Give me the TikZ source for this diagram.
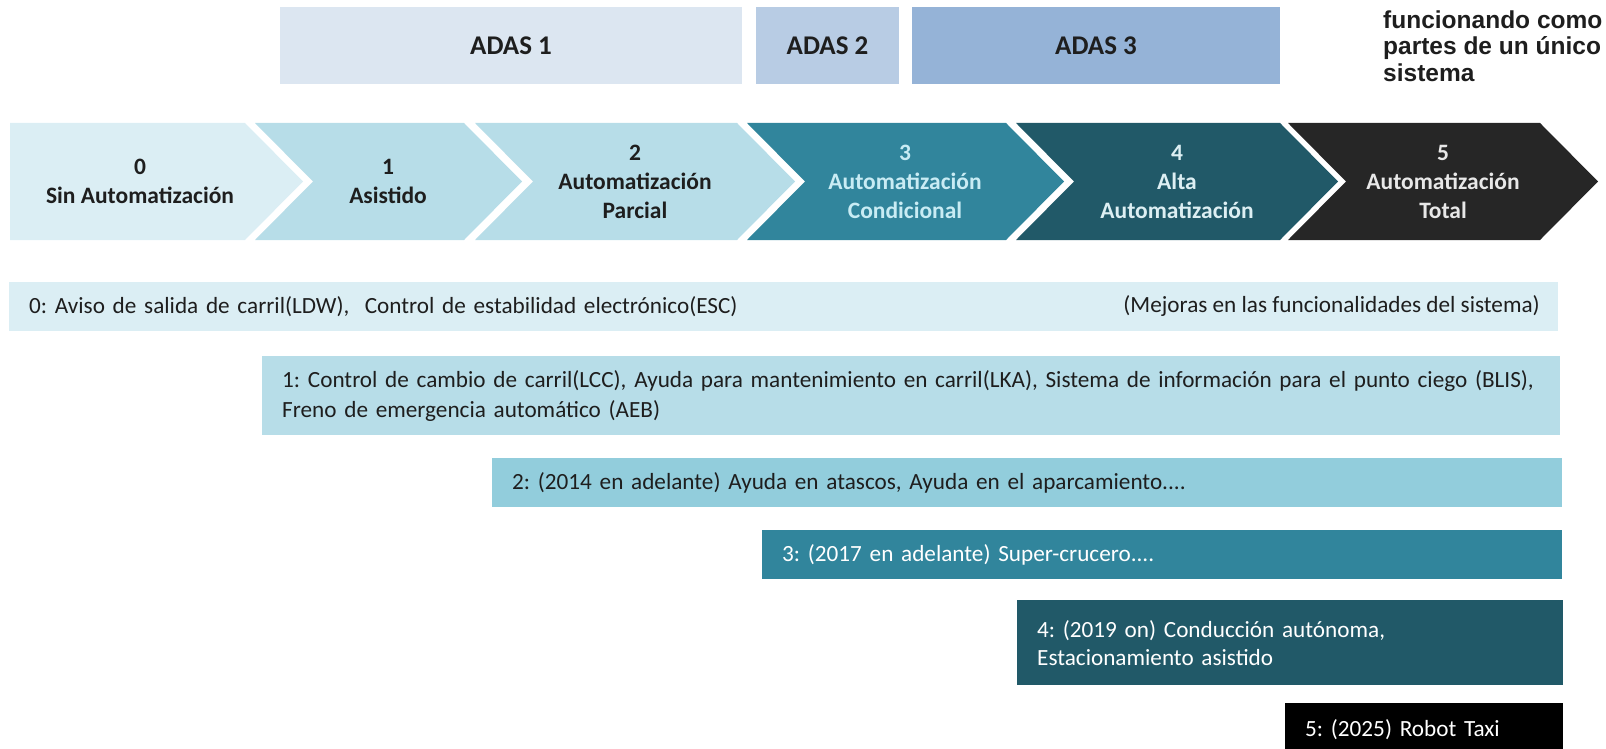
\documentclass[tikz,border=0pt]{standalone}
\usepackage{fontspec}
\setmainfont{Carlito}
\newfontfamily\arialfont{Liberation Sans}
\usepackage{tikz}
\usetikzlibrary{positioning}
\frenchspacing

\definecolor{adasA}{HTML}{DCE6F1}
\definecolor{adasB}{HTML}{B8CCE4}
\definecolor{adasC}{HTML}{95B3D7}
\definecolor{lvlA}{HTML}{DBEEF4}
\definecolor{lvlB}{HTML}{B7DDE8}
\definecolor{lvlC}{HTML}{92CDDC}
\definecolor{lvlD}{HTML}{31859C}
\definecolor{lvlE}{HTML}{215968}
\definecolor{lvlF}{HTML}{262626}
\definecolor{txtdark}{HTML}{1E1E1E}
\definecolor{txtcyan}{HTML}{C9ECF4}
\definecolor{txtpale}{HTML}{DDEFF3}
\definecolor{txtgrey}{HTML}{E8E8E8}

\newcommand{\adasfont}{\fontsize{27}{30}\selectfont\bfseries}
\newcommand{\stagefont}{\fontsize{23.5}{29}\selectfont\bfseries}
\newcommand{\lvlfont}{\fontsize{23.2}{30}\selectfont}

\begin{document}
\begin{tikzpicture}
[x=1pt,y=-1pt]
\tikzset{
	adasbox/.style = {rectangle, fill=#1, inner sep=0, font=\adasfont, text=txtdark},
	stagelabel/.style = {align=center, inner sep=0, font=\stagefont, text=#1},
	lvlbox/.style = {rectangle, fill=#1, anchor=north west, inner xsep=20pt, inner ysep=0, align=left, font=\lvlfont, text=txtdark},
	lvldark/.style = {lvlbox=#1, text=white}
}
\useasboundingbox (0,0) rectangle (1606,749);
\clip (0,0) rectangle (1606,749);

% ADAS groups
\node (adas1) [adasbox=adasA, minimum width=462pt, minimum height=77pt] at (511,45.5) {ADAS 1};
\node (adas2) [adasbox=adasB, minimum width=143pt, minimum height=77pt] at (827.5,45.5) {ADAS 2};
\node (adas3) [adasbox=adasC, minimum width=368pt, minimum height=77pt] at (1096,45.5) {ADAS 3};
\node (note) [anchor=north west, inner sep=0, align=left, font=\arialfont\fontsize{24.5}{26.5}\selectfont\bfseries, text=txtdark] at (1383,10.5) {funcionando como\\partes de un único\\sistema};

% levels
\fill [lvlA] (10,123) -- (245,123) -- (303,181.5) -- (245,240) -- (10,240) -- cycle;
\foreach \a/\b/\c in {255/464/lvlB, 475/737/lvlB, 747/1006/lvlD, 1016/1280/lvlE, 1288/1540/lvlF}
	\fill [\c] (\a,123) -- (\b,123) -- (\b+58,181.5) -- (\b,240) -- (\a,240) -- (\a+58,181.5) -- cycle;

\node (s0) [stagelabel=txtdark] at (140,181.5) {0\\Sin Automatización};
\node (s1) [stagelabel=txtdark] at (388,181.5) {1\\Asistido};
\node (s2) [stagelabel=txtdark] at (635,181.5) {2\\Automatización\\Parcial};
\node (s3) [stagelabel=txtcyan] at (905,181.5) {3\\Automatización\\Condicional};
\node (s4) [stagelabel=txtpale] at (1177,181.5) {4\\Alta\\Automatización};
\node (s5) [stagelabel=txtgrey] at (1443,181.5) {5\\Automatización\\Total};

% functions per level
\node (f0) [lvlbox=lvlA, text width=1509pt, minimum height=49pt] at (9,282) {0: Aviso de salida de carril(LDW),\ \ Control de estabilidad electrónico(ESC)};
\node (f0r) [anchor=east, inner sep=0, font=\lvlfont, text=txtdark] at (1540,306.5) {(Mejoras en las funcionalidades del sistema)};
\node (f1) [lvlbox=lvlB, text width=1258pt, minimum height=79pt] at (262,356) {1: Control de cambio de carril(LCC), Ayuda para mantenimiento en carril(LKA), Sistema de información para el punto ciego (BLIS),\\Freno de emergencia automático (AEB)};
\node (f2) [lvlbox=lvlC, text width=1030pt, minimum height=49pt] at (492,458) {2: (2014 en adelante) Ayuda en atascos, Ayuda en el aparcamiento....};
\node (f3) [lvldark=lvlD, text width=760pt, minimum height=49pt] at (762,530) {3: (2017 en adelante) Super-crucero....};
\node (f4) [lvldark=lvlE, text width=506pt, minimum height=85pt, font=\fontsize{23.2}{28}\selectfont] at (1017,600) {4: (2019 on) Conducción autónoma,\\Estacionamiento asistido};
\node (f5) [lvldark=black, text width=238pt, minimum height=52pt] at (1285,703) {5: (2025) Robot Taxi};

\end{tikzpicture}
\end{document}
